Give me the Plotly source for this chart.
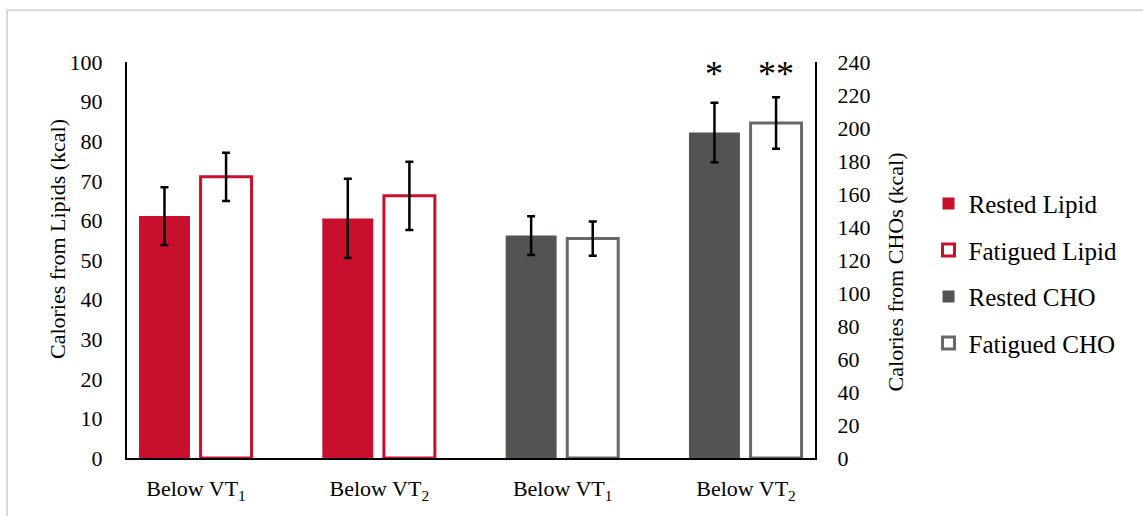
import plotly.graph_objects as go

# ---- data ----
tick_labels = ["Below VT<sub>1</sub>", "Below VT<sub>2</sub>", "Below VT<sub>1</sub>", "Below VT<sub>2</sub>"]
lipid_pos = [0, 1]
cho_pos = [2, 3]
rested_lipid = [61.1, 60.5]
rested_lipid_err = [7.3, 10.0]
fatigued_lipid = [71.0, 66.2]
fatigued_lipid_err = [6.1, 8.6]
rested_cho = [134.8, 197.3]
rested_cho_err = [11.7, 18.0]
fatigued_cho = [133.0, 203.0]
fatigued_cho_err = [10.4, 15.6]
sig_labels = ["*", "**"]

RED = "#C8102E"
GRAY = "#545352"
GRAY_LINE = "#686868"
FONT = "Liberation Serif"

W = 0.278
OFF_R = -0.311
OFF_F = 0.025

fig = go.Figure()

def err(vals):
    return dict(type="data", array=vals, visible=True, color="black", thickness=2.5, width=4)

fig.add_trace(go.Bar(
    x=lipid_pos, y=rested_lipid, name="Rested Lipid", width=W, offset=OFF_R,
    marker=dict(color=RED, line=dict(width=0)), error_y=err(rested_lipid_err),
    legendgroup="a", yaxis="y"))
fig.add_trace(go.Bar(
    x=lipid_pos, y=fatigued_lipid, name="Fatigued Lipid", width=W, offset=OFF_F,
    marker=dict(color="white", line=dict(color=RED, width=3)), error_y=err(fatigued_lipid_err),
    legendgroup="b", yaxis="y"))
fig.add_trace(go.Bar(
    x=cho_pos, y=rested_cho, name="Rested CHO", width=W, offset=OFF_R,
    marker=dict(color=GRAY, line=dict(width=0)), error_y=err(rested_cho_err),
    legendgroup="c", yaxis="y2"))
fig.add_trace(go.Bar(
    x=cho_pos, y=fatigued_cho, name="Fatigued CHO", width=W, offset=OFF_F,
    marker=dict(color="white", line=dict(color=GRAY_LINE, width=3)), error_y=err(fatigued_cho_err),
    legendgroup="d", yaxis="y2"))

# significance markers above the VT2 CHO bars
fig.add_annotation(x=cho_pos[1] + OFF_R + W / 2, y=233, xref="x", yref="y2",
                   xanchor="center", yanchor="middle",
                   text=sig_labels[0], showarrow=False, font=dict(family=FONT, size=36, color="black"))
fig.add_annotation(x=cho_pos[1] + OFF_F + W / 2, y=233, xref="x", yref="y2",
                   xanchor="center", yanchor="middle",
                   text=sig_labels[1], showarrow=False, font=dict(family=FONT, size=36, color="black"))

# axis titles
fig.add_annotation(x=-0.1017, y=0.553, xref="paper", yref="paper", text="Calories from Lipids (kcal)",
                   xanchor="center", yanchor="middle",
                   textangle=-90, showarrow=False, font=dict(family=FONT, size=22, color="black"))
fig.add_annotation(x=1.117, y=0.47, xref="paper", yref="paper", text="Calories from CHOs (kcal)",
                   xanchor="center", yanchor="middle",
                   textangle=-90, showarrow=False, font=dict(family=FONT, size=22, color="black"))

# chart frame
fig.add_shape(type="rect", xref="paper", yref="paper", x0=-0.1744, x1=1.49, y0=-0.2, y1=1.1307,
              line=dict(color="#d9d9d9", width=2), fillcolor="rgba(0,0,0,0)", layer="below")

fig.update_layout(
    width=1143, height=516,
    margin=dict(l=127, r=328, t=62, b=56),
    paper_bgcolor="white", plot_bgcolor="white",
    barmode="overlay",
    font=dict(family=FONT, size=22, color="black"),
    showlegend=True,
    legend=dict(x=1.165, y=0.70, xanchor="left", yanchor="top", traceorder="grouped",
                tracegroupgap=11, font=dict(family=FONT, size=25, color="black"),
                bgcolor="rgba(0,0,0,0)"),
    xaxis=dict(range=[-0.3764, 3.3764], tickvals=[0, 1, 2, 3], ticktext=tick_labels,
               showline=True, linecolor="black", linewidth=2, showgrid=False, zeroline=False,
               ticks="", ticklabelstandoff=10, tickfont=dict(family=FONT, size=22, color="black")),
    yaxis=dict(range=[0, 100], dtick=10, showline=True, linecolor="black", linewidth=2,
               showgrid=False, zeroline=False, ticks="", ticklabelstandoff=18,
               tickfont=dict(family=FONT, size=22, color="black")),
    yaxis2=dict(range=[0, 240], dtick=20, overlaying="y", side="right", showline=True,
                linecolor="black", linewidth=2, showgrid=False, zeroline=False, ticks="",
                ticklabelstandoff=16, tickfont=dict(family=FONT, size=22, color="black")),
)

fig.write_html("out.html")
